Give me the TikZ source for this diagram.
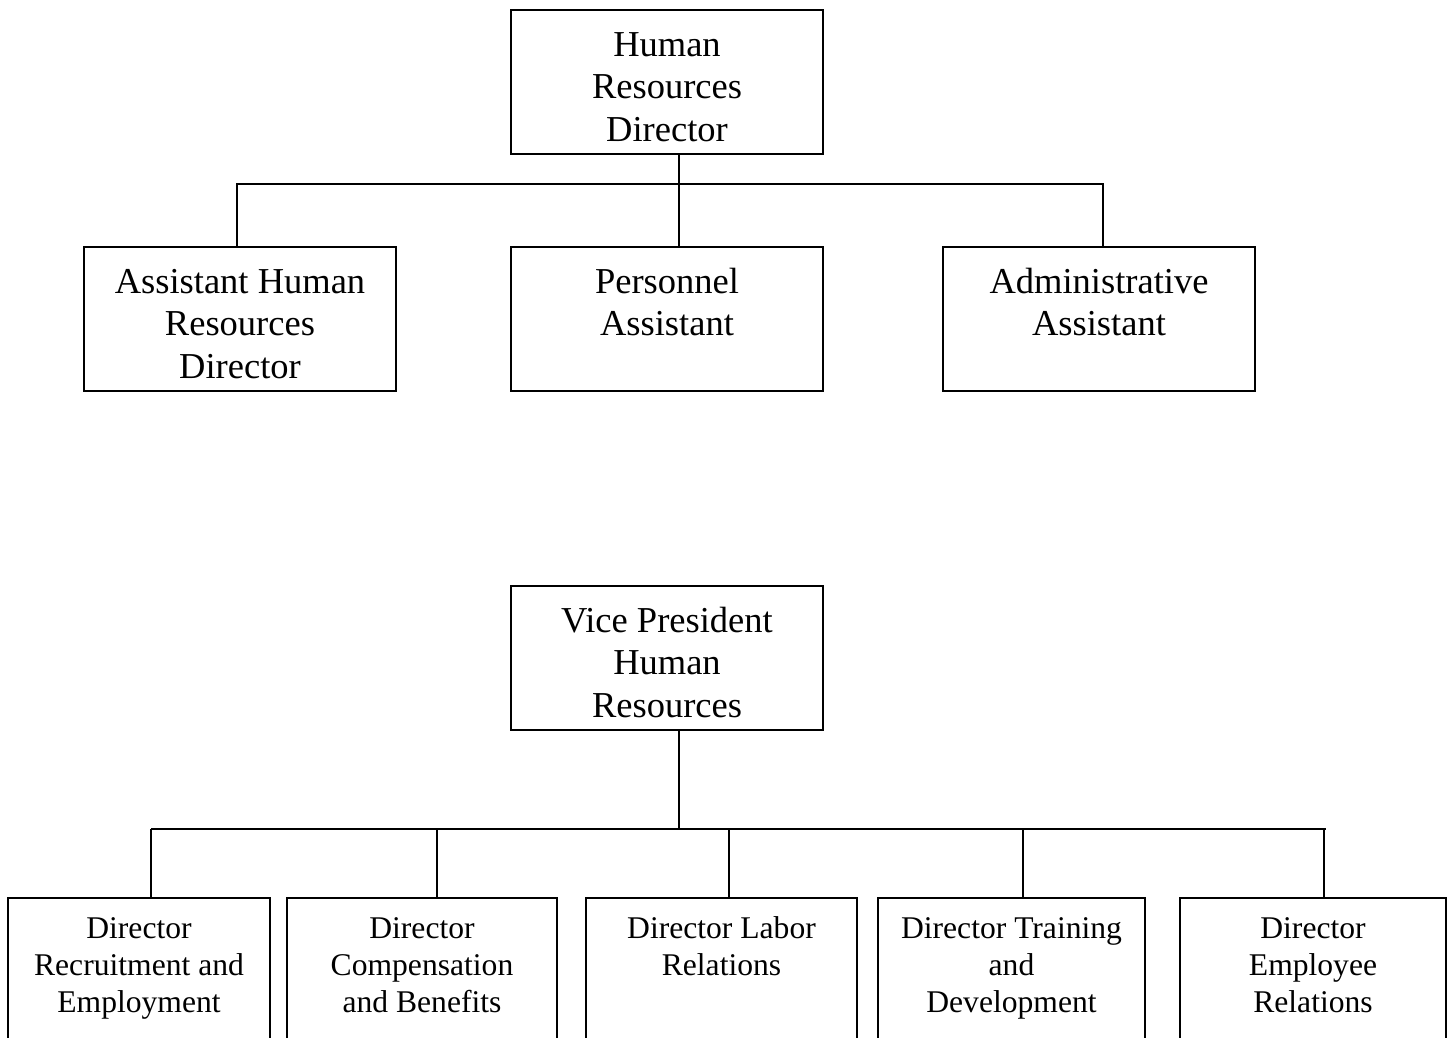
\documentclass[tikz,border=0pt]{standalone}
\usepackage{fontspec}
\setmainfont{Liberation Serif}
% invisible rules that fix the height of the first line of each label
\newcommand\TopLineStrut{\rule{0pt}{30pt}}
\newcommand\LowLineStrut{\rule{0pt}{26pt}}
\begin{document}
\begin{tikzpicture}[x=1pt,y=-1pt,
  box/.style={draw, rectangle, line width=1.8pt, inner sep=0pt},
  bigbox/.style={box, minimum width=312pt, minimum height=144pt},
  bigtext/.style={anchor=north, inner sep=0pt, align=center,
    font=\fontsize{36.5}{42.5}\selectfont},
  smalltext/.style={anchor=north, inner sep=0pt, align=center,
    font=\fontsize{31.6}{37.2}\selectfont},
  link/.style={line width=1.5pt}]
\useasboundingbox (0,0) rectangle (1450,1038);
\clip (0,0) rectangle (1450,1038);

% ---------- first chart ----------
\node[bigbox] (hrd) at (667,82) {};
\node[bigbox] (ahr) at (240,319) {};
\node[bigbox] (pa)  at (667,319) {};
\node[bigbox] (aa)  at (1099,319) {};

\node[bigtext] (hrdt) at ([yshift=-17pt]hrd.north) {\TopLineStrut Human\\Resources\\Director};
\node[bigtext] (ahrt) at ([yshift=-17pt]ahr.north) {\TopLineStrut Assistant Human\\Resources\\Director};
\node[bigtext] (pat)  at ([yshift=-17pt]pa.north)  {\TopLineStrut Personnel\\Assistant};
\node[bigtext] (aat)  at ([yshift=-17pt]aa.north)  {\TopLineStrut Administrative\\Assistant};

\coordinate (bus1) at (0,184);
\coordinate (drop1) at (679,0);
\coordinate (l1) at (237,0);
\coordinate (r1) at (1103,0);
\draw[link] (drop1 |- hrd.south) -- (drop1 |- pa.north);
\draw[link] (l1 |- ahr.north) -- (l1 |- bus1) -- (r1 |- bus1) -- (r1 |- aa.north);

% ---------- second chart ----------
\node[bigbox] (vp) at (667,658) {};
\node[bigtext] (vpt) at ([yshift=-17pt]vp.north) {\TopLineStrut Vice President\\Human\\Resources};

\node[box, minimum width=262pt, minimum height=170pt] (d1) at (139,983) {};
\node[box, minimum width=270pt, minimum height=170pt] (d2) at (422,983) {};
\node[box, minimum width=271pt, minimum height=170pt] (d3) at (721.5,983) {};
\node[box, minimum width=267pt, minimum height=170pt] (d4) at (1011.5,983) {};
\node[box, minimum width=266pt, minimum height=170pt] (d5) at (1313,983) {};

\node[smalltext] (d1t) at ([yshift=-15pt]d1.north) {\LowLineStrut Director\\Recruitment and\\Employment};
\node[smalltext] (d2t) at ([yshift=-15pt]d2.north) {\LowLineStrut Director\\Compensation\\and Benefits};
\node[smalltext] (d3t) at ([yshift=-15pt]d3.north) {\LowLineStrut Director Labor\\Relations};
\node[smalltext] (d4t) at ([yshift=-15pt]d4.north) {\LowLineStrut Director Training\\and\\Development};
\node[smalltext] (d5t) at ([yshift=-15pt]d5.north) {\LowLineStrut Director\\Employee\\Relations};

\coordinate (bus2) at (0,829);
\coordinate (k1) at (151,829);
\coordinate (k2) at (437,829);
\coordinate (k3) at (729,829);
\coordinate (k4) at (1023,829);
\coordinate (k5) at (1324,829);
\coordinate (kend) at (1326,829);
\draw[link] (drop1 |- vp.south) -- (drop1 |- bus2);
\draw[link] (k1) -- (kend);
\draw[link] (k1) -- (k1 |- d1.north);
\draw[link] (k2) -- (k2 |- d2.north);
\draw[link] (k3) -- (k3 |- d3.north);
\draw[link] (k4) -- (k4 |- d4.north);
\draw[link] (k5) -- (k5 |- d5.north);
\end{tikzpicture}
\end{document}
